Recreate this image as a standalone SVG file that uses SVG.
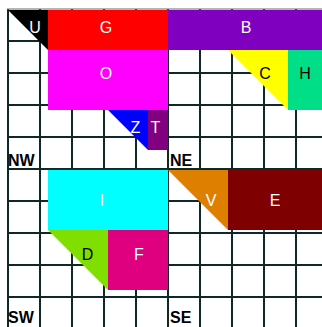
<svg xmlns="http://www.w3.org/2000/svg" width="322" height="327" viewBox="0 0 322 327">
<style>
.grid line{stroke:#0f2828;stroke-width:2}
.lbl{font-family:"Liberation Sans",Arial,sans-serif;font-size:16px;text-anchor:middle}
.w{fill:#ffffff}
.k{fill:#000000}
.q{font-family:"Liberation Sans",Arial,sans-serif;font-size:16px;font-weight:bold;fill:#000000}
</style>
<rect x="0" y="0" width="322" height="327" fill="#ffffff"/>
<g class="grid">
<line x1="8" y1="9" x2="8" y2="327"/>
<line x1="40" y1="9" x2="40" y2="327"/>
<line x1="72" y1="9" x2="72" y2="327"/>
<line x1="104" y1="9" x2="104" y2="327"/>
<line x1="136" y1="9" x2="136" y2="327"/>
<line x1="168" y1="9" x2="168" y2="327"/>
<line x1="200" y1="9" x2="200" y2="327"/>
<line x1="232" y1="9" x2="232" y2="327"/>
<line x1="264" y1="9" x2="264" y2="327"/>
<line x1="296" y1="9" x2="296" y2="327"/>
<line x1="7" y1="9" x2="322" y2="9" style="stroke-width:1;stroke:#6a6a6a"/>
<line x1="7" y1="41" x2="322" y2="41"/>
<line x1="7" y1="73" x2="322" y2="73"/>
<line x1="7" y1="105" x2="322" y2="105"/>
<line x1="7" y1="137" x2="322" y2="137"/>
<line x1="7" y1="169" x2="322" y2="169"/>
<line x1="7" y1="201" x2="322" y2="201"/>
<line x1="7" y1="233" x2="322" y2="233"/>
<line x1="7" y1="265" x2="322" y2="265"/>
<line x1="7" y1="297" x2="322" y2="297"/>
</g>
<g id="labels">
<text class="q" x="8" y="166">NW</text>
<text class="q" x="170" y="166">NE</text>
<text class="q" x="8" y="323">SW</text>
<text class="q" x="170" y="323">SE</text>
</g>
<g id="U"><polygon points="8,10 48,10 48,50" fill="#000000"/><text class="lbl w" x="35" y="33">U</text></g>
<g id="G"><rect x="48" y="10" width="120" height="40" fill="#ff0000"/><text class="lbl w" x="106" y="33">G</text></g>
<g id="O"><rect x="48" y="50" width="120" height="60" fill="#ff00ff"/><text class="lbl w" x="106" y="79">O</text></g>
<g id="Z"><polygon points="108,110 148,110 148,150" fill="#0000ff"/><text class="lbl w" x="135.5" y="133">Z</text></g>
<g id="T"><rect x="148" y="110" width="20" height="40" fill="#800080"/><text class="lbl w" x="155.5" y="133">T</text></g>
<g id="B"><rect x="168" y="10" width="160" height="40" fill="#7f00bf"/><text class="lbl w" x="246" y="33">B</text></g>
<g id="C"><polygon points="228,50 288,50 288,110" fill="#ffff00"/><text class="lbl k" x="265" y="79">C</text></g>
<g id="H"><rect x="288" y="50" width="40" height="60" fill="#00df88"/><text class="lbl k" x="305" y="79">H</text></g>
<g id="I"><rect x="48" y="170" width="120" height="60" fill="#00ffff"/><text class="lbl w" x="102" y="206">I</text></g>
<g id="D"><polygon points="48,230 108,230 108,290" fill="#80df00"/><text class="lbl k" x="87.5" y="260">D</text></g>
<g id="F"><rect x="108" y="230" width="60" height="60" fill="#df007f"/><text class="lbl w" x="139" y="260">F</text></g>
<g id="V"><polygon points="168,170 228,170 228,230" fill="#df7f00"/><text class="lbl w" x="211" y="206">V</text></g>
<g id="E"><rect x="228" y="170" width="100" height="60" fill="#7f0000"/><text class="lbl w" x="275" y="206">E</text></g>
<g id="connectors"></g>
</svg>
